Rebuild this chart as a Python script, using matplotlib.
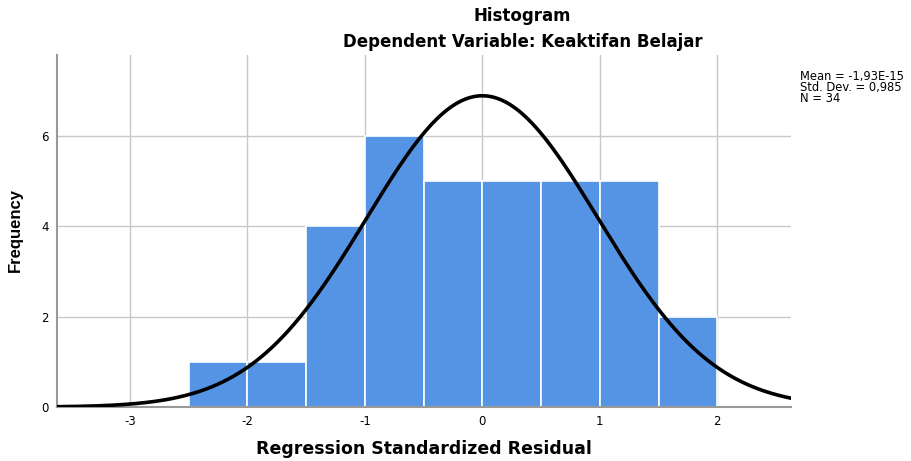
import numpy as np
import matplotlib.pyplot as plt

plt.rcParams['font.family'] = ['DejaVu Sans']

bin_edges = [-2.5, -2.0, -1.5, -1.0, -0.5, 0.0, 0.5, 1.0, 1.5, 2.0]
counts = [1, 1, 4, 6, 5, 5, 5, 5, 2]
mean = -1.93e-15
std = 0.985
n = 34
xticks = [-3, -2, -1, 0, 1, 2]
yticks = [0, 2, 4, 6]

fig = plt.figure(figsize=(9.11, 4.61), dpi=100)
ax = fig.add_axes([0.0626, 0.117, 0.806, 0.764])

widths = np.diff(bin_edges)
ax.bar(bin_edges[:-1], counts, width=widths, align='edge',
       color='#5594e5', edgecolor='white', linewidth=1.2, zorder=2)

xs = np.linspace(-3.62, 2.63, 400)
bw = widths[0]
ys = n * bw / (std * np.sqrt(2 * np.pi)) * np.exp(-0.5 * ((xs - mean) / std) ** 2)
ax.plot(xs, ys, color='black', linewidth=2.6, zorder=3, solid_capstyle='butt')

ax.set_xlim(-3.62, 2.63)
ax.set_ylim(0, 7.79)
ax.set_xticks(xticks)
ax.set_yticks(yticks)
ax.set_xticklabels([str(t) for t in xticks], fontsize=8.5)
ax.set_yticklabels([str(t) for t in yticks], fontsize=8.5)
ax.tick_params(length=0, pad=6)
ax.grid(True, color='#c8c8c8', linewidth=1.0, zorder=1)
ax.set_axisbelow(True)
for s in ['top', 'right']:
    ax.spines[s].set_visible(False)
for s in ['left', 'bottom']:
    ax.spines[s].set_color('#999999')
    ax.spines[s].set_linewidth(1.5)

ax.set_xlabel('Regression Standardized Residual', fontsize=12.5, fontweight='bold', labelpad=8)
fig.text(0.017, 0.5, 'Frequency', rotation=90, fontsize=12, fontweight='bold',
         ha='center', va='center', family='Liberation Sans')

fig.text(0.573, 0.965, 'Histogram', fontsize=12, fontweight='bold', ha='center', va='center')
fig.text(0.574, 0.908, 'Dependent Variable: Keaktifan Belajar', fontsize=12,
         fontweight='bold', ha='center', va='center')

fig.text(0.878, 0.81, 'Mean = -1,93E-15\nStd. Dev. = 0,985\nN = 34',
         fontsize=8.3, ha='left', va='center', linespacing=0.82)

fig.savefig('out.png', dpi=100)
